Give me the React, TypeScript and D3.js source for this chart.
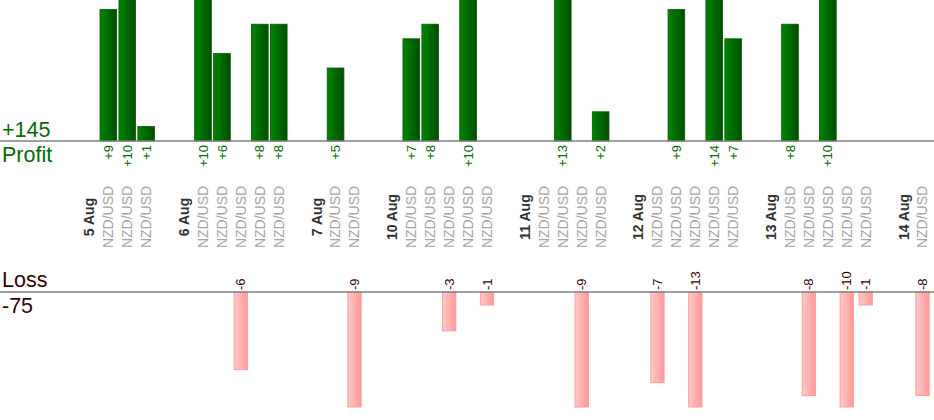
import React from 'react';
import * as d3 from 'd3';

// trading days and the result of each trade (pips), in order
const days = ['5 Aug', '6 Aug', '7 Aug', '10 Aug', '11 Aug', '12 Aug', '13 Aug', '14 Aug'];
const pairs = [
  ['NZD/USD', 'NZD/USD', 'NZD/USD'],
  ['NZD/USD', 'NZD/USD', 'NZD/USD', 'NZD/USD', 'NZD/USD'],
  ['NZD/USD', 'NZD/USD'],
  ['NZD/USD', 'NZD/USD', 'NZD/USD', 'NZD/USD', 'NZD/USD'],
  ['NZD/USD', 'NZD/USD', 'NZD/USD', 'NZD/USD'],
  ['NZD/USD', 'NZD/USD', 'NZD/USD', 'NZD/USD', 'NZD/USD'],
  ['NZD/USD', 'NZD/USD', 'NZD/USD', 'NZD/USD', 'NZD/USD'],
  ['NZD/USD'],
];
const results = [
  [9, 10, 1],
  [10, 6, -6, 8, 8],
  [5, -9],
  [7, 8, -3, 10, -1],
  [0, 13, -9, 2],
  [-7, 9, -13, 14, 7],
  [8, -8, 10, -10, -1],
  [-8],
];

type Slot = { kind: 'blank' | 'date' | 'trade'; label: string; value: number };

const slots: Slot[] = [];
days.forEach((d, i) => {
  slots.push({ kind: 'blank', label: '', value: 0 });
  slots.push({ kind: 'date', label: d, value: 0 });
  pairs[i].forEach((p, j) => slots.push({ kind: 'trade', label: p, value: results[i][j] }));
});

const width = 934;
const height = 420;
const profitBase = 141;
const lossBase = 292;
const lossFloor = 407;
const font = '"Liberation Sans", Arial, sans-serif';
const green = '#006f00';
const maroon = '#3a0000';

const App: React.FC = () => {
  const x = d3.scaleBand<number>()
    .domain(d3.range(slots.length))
    .range([61, 932])
    .paddingInner(0.12)
    .paddingOuter(0.06);
  const bw = x.bandwidth();
  const cx = (i: number) => (x(i) ?? 0) + bw / 2;

  const yProfit = d3.scaleLinear().domain([0, 10]).range([profitBase, profitBase - 146]);
  const yLoss = d3.scaleLinear().domain([0, 10]).range([lossBase, lossBase + 129.5]);

  const totalProfit = d3.sum(slots, s => (s.value > 0 ? s.value : 0));
  const totalLoss = d3.sum(slots, s => (s.value < 0 ? s.value : 0));
  const lossW = bw * 0.8;

  return (
    <svg width={width} height={height} style={{ position: 'absolute', left: 0, top: 0 }} fontFamily={font}>
      <defs>
        <linearGradient id="profitGrad" x1="0" x2="1" y1="0" y2="0">
          <stop offset="0" stopColor="#008400" />
          <stop offset="1" stopColor="#004e00" />
        </linearGradient>
        <linearGradient id="lossGrad" x1="0" x2="1" y1="0" y2="0">
          <stop offset="0" stopColor="#ffc9c9" />
          <stop offset="1" stopColor="#ff9898" />
        </linearGradient>
      </defs>

      {/* profit bars */}
      {slots.map((s, i) => s.value > 0 && (
        <rect key={'p' + i} x={x(i)} y={yProfit(s.value)} width={bw}
          height={profitBase - yProfit(s.value)} fill="url(#profitGrad)" stroke="#005c00" strokeWidth={0.8} />
      ))}
      {/* loss bars */}
      {slots.map((s, i) => s.value < 0 && (
        <rect key={'l' + i} x={cx(i) - lossW / 2} y={lossBase} width={lossW}
          height={Math.min(yLoss(-s.value), lossFloor) - lossBase} fill="url(#lossGrad)" stroke="#ff9d9d" strokeWidth={1} />
      ))}

      <line x1={0} x2={width} y1={profitBase} y2={profitBase} stroke="#808080" strokeWidth={1.3} />
      <line x1={0} x2={width} y1={lossBase} y2={lossBase} stroke="#808080" strokeWidth={1.3} />

      {/* value labels */}
      {slots.map((s, i) => s.value > 0 && (
        <text key={'pv' + i} transform={`translate(${cx(i)},${profitBase + 4}) rotate(-90)`}
          textAnchor="end" dy="0.35em" fontSize={13} fill={green}>{'+' + s.value}</text>
      ))}
      {slots.map((s, i) => s.value < 0 && (
        <text key={'lv' + i} transform={`translate(${cx(i)},${lossBase - 2}) rotate(-90)`}
          textAnchor="start" dy="0.35em" fontSize={13} fill={maroon}>{s.value}</text>
      ))}

      {/* category labels */}
      {slots.map((s, i) => s.kind !== 'blank' && (
        <text key={'c' + i} transform={`translate(${cx(i)},217) rotate(-90)`} textAnchor="middle" dy="0.35em"
          fontSize={14} fontWeight={s.kind === 'date' ? 'bold' : 'normal'}
          fill={s.kind === 'date' ? '#333' : '#a6a6a6'}>{s.label}</text>
      ))}

      {/* totals */}
      <text x={2} y={137} fontSize={21.5} fill={green}>{'+' + totalProfit}</text>
      <text x={2} y={162} fontSize={21.5} fill={green}>Profit</text>
      <text x={2} y={287} fontSize={21.5} fill={maroon}>Loss</text>
      <text x={2} y={313} fontSize={21.5} fill={maroon}>{totalLoss}</text>
    </svg>
  );
};

export default App;
